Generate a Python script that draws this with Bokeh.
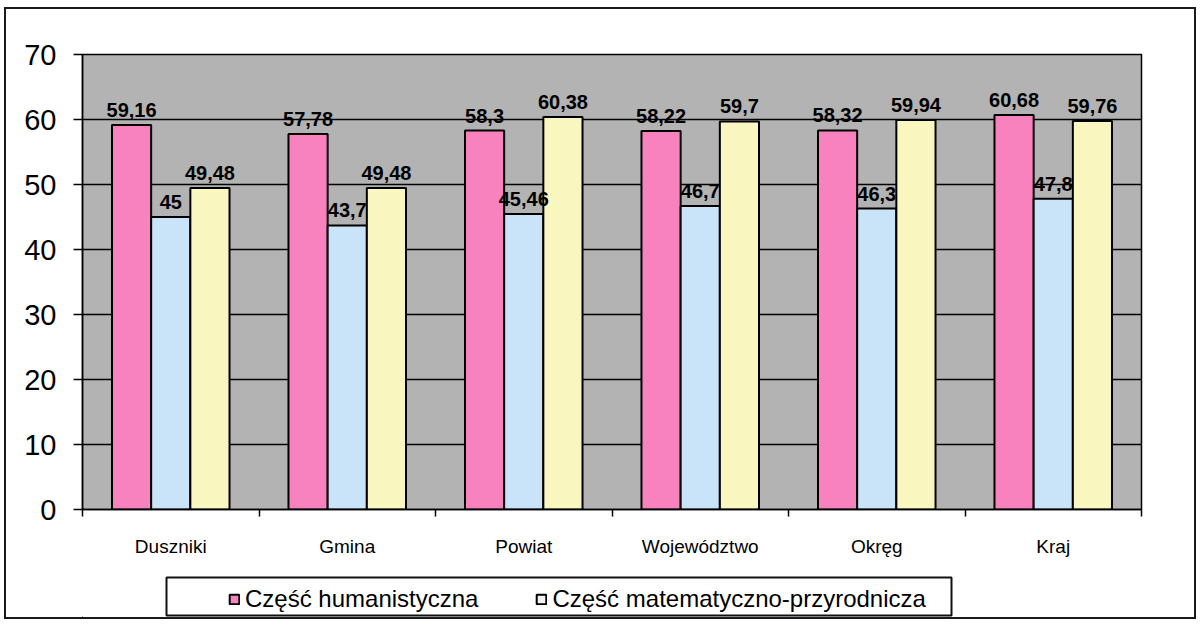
from bokeh.plotting import figure
from bokeh.models import Range1d, FixedTicker, ColumnDataSource, Legend, LegendItem, Spacer
from bokeh.layouts import column, row
from bokeh.embed import file_html
from bokeh.resources import INLINE
from bokeh.core.properties import value

# ---- data ----
kategorie = ["Duszniki", "Gmina", "Powiat", "Województwo", "Okręg", "Kraj"]
humanistyczna = [59.16, 57.78, 58.3, 58.22, 58.32, 60.68]
seria_niebieska = [45, 43.7, 45.46, 46.7, 46.3, 47.8]
mat_przyr = [49.48, 49.48, 60.38, 59.7, 59.94, 59.76]
y_ticks = [0, 10, 20, 30, 40, 50, 60, 70]
legend_labels = ["Część humanistyczna", "Część matematyczno-przyrodnicza"]

# ---- style ----
PINK = "#F882BE"
BLUE = "#C9E3F8"
YELLOW = "#F9F6BF"
PALE = "#EEF2F0"
BG = "#B3B3B3"
FONT = "Liberation Sans"
W = 0.222
FIG_W = 1188
BORDER_L, BORDER_R = 76, 53
FRAME_W = FIG_W - BORDER_L - BORDER_R
LEG_H = 42
LEG_BOX = dict(left=84, right=869, bottom=2, top=40)   # legend frame, in pixels of panel


def fmt(v):
    return f"{v:g}".replace(".", ",")


pos = [i + 0.5 for i in range(len(kategorie))]
src = ColumnDataSource(dict(
    x_h=[x - W for x in pos], x_b=pos, x_m=[x + W for x in pos],
    h=humanistyczna, b=seria_niebieska, m=mat_przyr,
    lh=[fmt(v) for v in humanistyczna],
    lb=[fmt(v) for v in seria_niebieska],
    lm=[fmt(v) for v in mat_przyr],
))

p = figure(width=FIG_W, height=566, x_range=Range1d(0, len(kategorie)), y_range=Range1d(0, 70),
           output_backend="svg", toolbar_location=None,
           min_border_left=BORDER_L, min_border_right=BORDER_R, min_border_top=45, min_border_bottom=66,
           background_fill_color=BG, border_fill_color="white",
           outline_line_color="black", outline_line_width=1.5)

p.xgrid.visible = False
p.ygrid.grid_line_color = "black"
p.ygrid.grid_line_width = 1.5

ya = p.yaxis[0]
ya.ticker = FixedTicker(ticks=y_ticks, minor_ticks=[])
ya.major_label_text_font = FONT
ya.major_label_text_font_size = "29px"
ya.major_label_text_color = "black"
ya.major_label_standoff = 17
ya.major_tick_out = 9
ya.major_tick_in = 0
ya.major_tick_line_color = "black"
ya.major_tick_line_width = 1.5
ya.axis_line_color = "black"
ya.axis_line_width = 1.5

xa = p.xaxis[0]
xa.ticker = FixedTicker(ticks=pos, minor_ticks=list(range(len(kategorie) + 1)))
xa.major_label_overrides = {x: k for x, k in zip(pos, kategorie)}
xa.major_label_text_font = FONT
xa.major_label_text_font_size = "19px"
xa.major_label_text_color = "black"
xa.major_label_standoff = 19
xa.major_tick_out = 0
xa.major_tick_in = 0
xa.minor_tick_out = 7
xa.minor_tick_in = 0
xa.minor_tick_line_color = "black"
xa.minor_tick_line_width = 1.5
xa.axis_line_color = "black"
xa.axis_line_width = 1.5

bar = dict(source=src, width=W, bottom=0, line_color="black", line_width=2)
p.vbar(x="x_h", top="h", fill_color=PINK, **bar)
p.vbar(x="x_b", top="b", fill_color=BLUE, **bar)
p.vbar(x="x_m", top="m", fill_color=YELLOW, **bar)

lbl = dict(source=src, text_align="center", text_baseline="alphabetic", y_offset=-15,
           text_font=value(FONT), text_font_size="20px", text_font_style="bold",
           text_color="black")
p.text(x="x_h", y="h", text="lh", **lbl)
p.text(x="x_b", y="b", text="lb", **lbl)
p.text(x="x_m", y="m", text="lm", **lbl)

# ---- legend panel ----
p2 = figure(width=FIG_W, height=LEG_H, x_range=Range1d(0, FRAME_W), y_range=Range1d(0, LEG_H),
            output_backend="svg", toolbar_location=None,
            x_axis_location=None, y_axis_location=None,
            min_border_left=BORDER_L, min_border_right=BORDER_R, min_border_top=0, min_border_bottom=0,
            background_fill_color="white", border_fill_color="white",
            outline_line_color=None)
p2.xgrid.visible = False
p2.ygrid.visible = False
p2.quad(**{k: [v] for k, v in LEG_BOX.items()}, fill_color=None, line_color="#111111", line_width=2)
# swatch-only renderers (placed outside the visible range)
r1 = p2.vbar(x=[-100], top=[-100], bottom=[-200], width=1, fill_color=PINK, line_color="black", line_width=2)
r2 = p2.vbar(x=[-100], top=[-100], bottom=[-200], width=1, fill_color=PALE, line_color="black", line_width=2)
leg = Legend(items=[LegendItem(label=legend_labels[0], renderers=[r1]),
                    LegendItem(label=legend_labels[1], renderers=[r2])],
             orientation="horizontal", location=(146, 4), padding=0, margin=0,
             spacing=57, glyph_width=12, glyph_height=12, label_standoff=5,
             label_text_font=FONT, label_text_font_size="24px", label_text_color="black",
             border_line_alpha=0, background_fill_alpha=0)
p2.add_layout(leg, "center")

boxed = column(p, p2, spacing=0, styles={"border": "2px solid #1a1a1a"})
layout = column(Spacer(height=7), row(Spacer(width=4), boxed, spacing=0), spacing=0)

open("out.html", "w", encoding="utf-8").write(file_html(layout, INLINE))
